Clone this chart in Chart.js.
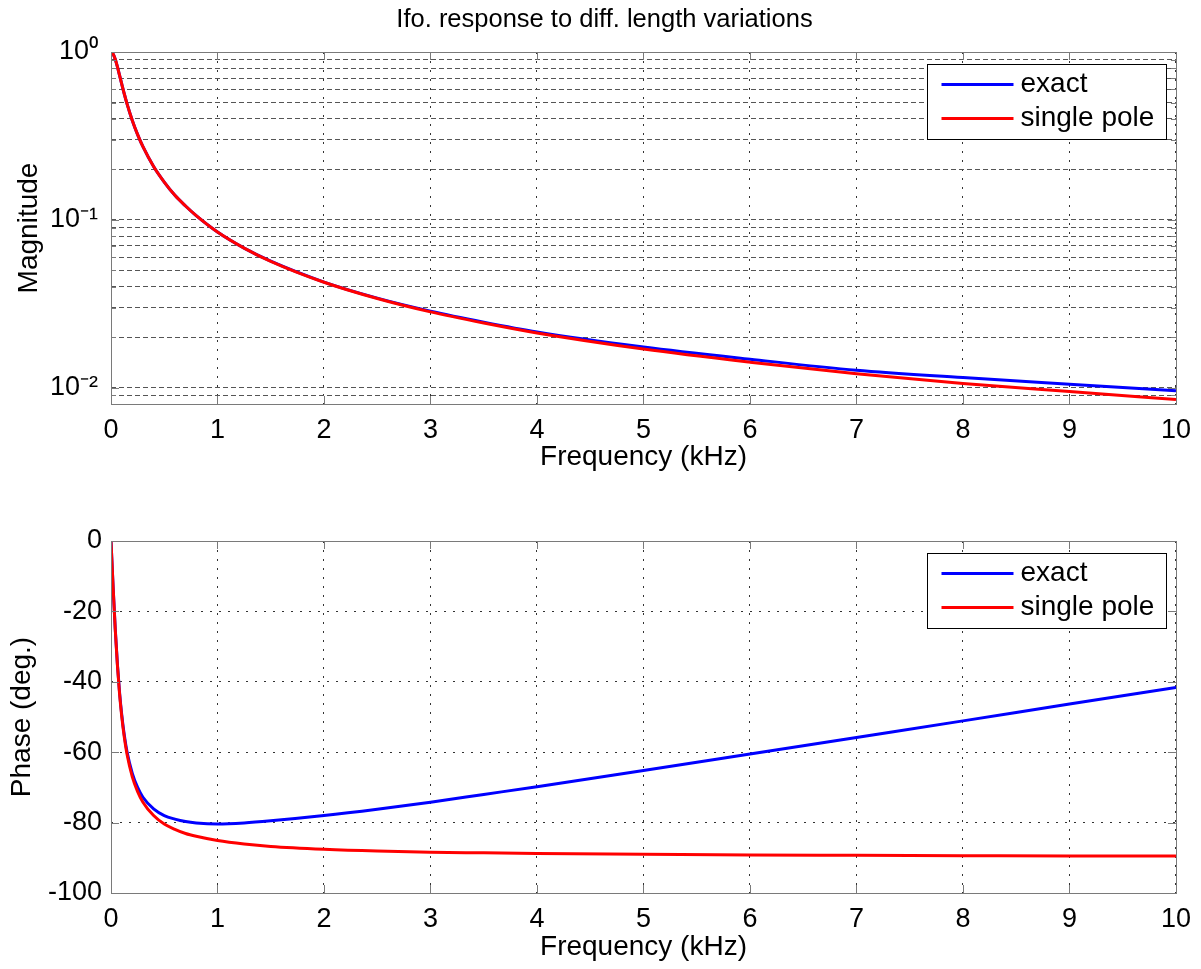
<!DOCTYPE html>
<html>
<head>
<meta charset="utf-8">
<script src="https://cdn.jsdelivr.net/npm/chart.js@4.4.0/dist/chart.umd.min.js"></script>
<style>
  html, body { margin: 0; padding: 0; background: #fff; }
  .panel { position: absolute; left: 0; width: 1201px; }
  #topPanel { top: 0; height: 490px; }
  #bottomPanel { top: 490px; height: 479px; }
</style>
</head>
<body>
<div class="panel" id="topPanel"><canvas id="magChart" width="1201" height="490"></canvas></div>
<div class="panel" id="bottomPanel"><canvas id="phaseChart" width="1201" height="479"></canvas></div>
<script>
/* ===== Data ===== */
const freq = [0, 0.02, 0.04, 0.06, 0.08, 0.1, 0.125, 0.15, 0.2, 0.25, 0.3, 0.4, 0.5, 0.6, 0.7, 0.8,
  1, 1.25, 1.5, 2, 2.5, 3, 3.5, 4, 5, 6, 7, 8, 9, 10];

const magExact = [1.0, 0.973, 0.905, 0.817, 0.728, 0.648, 0.562, 0.493, 0.391, 0.322, 0.273, 0.208,
  0.168, 0.140, 0.121, 0.106, 0.0847, 0.0679, 0.0567, 0.0426, 0.0342, 0.0286, 0.0246, 0.0215,
  0.0175, 0.0148, 0.0127, 0.0115, 0.0105, 0.0096];
const magPole = [1.0, 0.973, 0.905, 0.817, 0.728, 0.648, 0.562, 0.493, 0.391, 0.322, 0.273, 0.208,
  0.168, 0.140, 0.121, 0.106, 0.0847, 0.0679, 0.0566, 0.0425, 0.0340, 0.0283, 0.0243, 0.0212,
  0.0170, 0.0142, 0.0121, 0.0106, 0.0095, 0.0085];

const phaseExact = [0, -13.1, -25.0, -34.9, -42.9, -49.1, -55.2, -59.8, -66.0, -70.0, -72.8, -76.1,
  -78.0, -79.0, -79.7, -80.1, -80.4, -80.1, -79.5, -78.0, -76.2, -74.2, -72.0, -69.8,
  -65.2, -60.5, -55.8, -51.1, -46.3, -41.6];
const phasePole = [0, -13.2, -25.2, -35.2, -43.3, -49.6, -55.8, -60.5, -67.0, -71.2, -74.2, -78.0,
  -80.4, -81.9, -83.1, -83.9, -85.1, -86.1, -86.8, -87.6, -88.1, -88.4, -88.6, -88.8,
  -89.0, -89.2, -89.3, -89.4, -89.5, -89.5];

const freqTicks = [0, 1, 2, 3, 4, 5, 6, 7, 8, 9, 10];
const magTicks = [0.008, 0.009, 0.01, 0.02, 0.03, 0.04, 0.05, 0.06, 0.07, 0.08, 0.09,
  0.1, 0.2, 0.3, 0.4, 0.5, 0.6, 0.7, 0.8, 0.9, 1];
const magLabels = { 1: '10\u2070', 0.1: '10\u207B\u00B9', 0.01: '10\u207B\u00B2' };
const phaseTicks = [-100, -80, -60, -40, -20, 0];

const seriesNames = ['exact', 'single pole'];
const seriesColors = ['#0000ff', '#ff0000'];

/* ===== Shared style ===== */
const fontFamily = "'Liberation Sans', Arial, Helvetica, sans-serif";
Chart.defaults.font.family = fontFamily;
Chart.defaults.color = '#000';

const gridDots = '#333';
const frameColor = '#7a7a7a';

const points = (ys) => freq.map((f, i) => ({ x: f, y: ys[i] }));

function lineSet(label, data, color, order) {
  return {
    label,
    data: points(data),
    borderColor: color,
    backgroundColor: color,
    borderWidth: 3,
    pointRadius: 0,
    cubicInterpolationMode: 'monotone',
    order
  };
}

/* ===== Frame, inward ticks and boxed legend ===== */
const axesFrame = {
  id: 'axesFrame',
  afterDatasetsDraw(chart) {
    const { ctx, chartArea: a, scales } = chart;
    ctx.save();
    ctx.strokeStyle = frameColor;
    ctx.lineWidth = 1;
    ctx.setLineDash([]);
    ctx.beginPath();
    scales.x.ticks.forEach(t => {
      const px = Math.round(scales.x.getPixelForValue(t.value)) + 0.5;
      ctx.moveTo(px, a.bottom); ctx.lineTo(px, a.bottom - 8);
      ctx.moveTo(px, a.top); ctx.lineTo(px, a.top + 8);
    });
    scales.y.ticks.forEach(t => {
      const py = Math.round(scales.y.getPixelForValue(t.value)) + 0.5;
      const len = scales.y.type === 'logarithmic' && !magLabels[t.value] ? 5 : 8;
      ctx.moveTo(a.left, py); ctx.lineTo(a.left + len, py);
      ctx.moveTo(a.right, py); ctx.lineTo(a.right - len, py);
    });
    ctx.stroke();
    ctx.strokeRect(Math.round(a.left) + 0.5, Math.round(a.top) + 0.5,
      Math.round(a.right - a.left), Math.round(a.bottom - a.top));
    ctx.restore();
  },
  afterDraw(chart) {
    const { ctx, chartArea: a } = chart;
    const w = 239, h = 75;
    const left = Math.round(a.right - 10 - w) + 0.5;
    const top = Math.round(a.top + 12) + 0.5;
    ctx.save();
    ctx.fillStyle = '#fff';
    ctx.fillRect(left, top, w, h);
    ctx.strokeStyle = '#000';
    ctx.lineWidth = 1;
    ctx.strokeRect(left, top, w, h);
    ctx.font = `28px ${fontFamily}`;
    ctx.textBaseline = 'middle';
    ctx.fillStyle = '#000';
    chart.data.datasets.forEach((ds, i) => {
      const y = top + 20 + i * 34;
      ctx.strokeStyle = ds.borderColor;
      ctx.lineWidth = 3;
      ctx.beginPath();
      ctx.moveTo(left + 14, y);
      ctx.lineTo(left + 86, y);
      ctx.stroke();
      ctx.fillText(ds.label, left + 93, y);
    });
    ctx.restore();
  }
};

/* ===== Magnitude ===== */
function initMagChart() {
  const ctx = document.getElementById('magChart');
  new Chart(ctx, {
    type: 'line',
    data: {
      datasets: [
        lineSet(seriesNames[0], magExact, seriesColors[0], 2),
        lineSet(seriesNames[1], magPole, seriesColors[1], 1)
      ]
    },
    options: {
      responsive: false,
      animation: false,
      // left padding keeps the title centred where the reference has it
      layout: { padding: { left: 31, right: 23, top: 0, bottom: 0 } },
      scales: {
        x: {
          type: 'linear',
          min: 0,
          max: 10,
          afterBuildTicks: s => { s.ticks = freqTicks.map(v => ({ value: v })); },
          afterFit: s => { s.height = 86; },
          ticks: { autoSkip: false, maxRotation: 0, padding: 10, font: { size: 27 } },
          grid: { color: gridDots, drawTicks: false },
          border: { display: false, dash: [2, 7] },
          title: { display: true, text: 'Frequency (kHz)', font: { size: 28 }, padding: 16 }
        },
        y: {
          type: 'logarithmic',
          min: 0.008,
          max: 1,
          afterBuildTicks: s => { s.ticks = magTicks.map(v => ({ value: v })); },
          afterFit: s => { s.width = 80; },
          ticks: {
            autoSkip: false,
            padding: 13,
            font: { size: 27 },
            callback: v => magLabels[v] || ''
          },
          grid: { color: '#555', drawTicks: false },
          border: { display: false, dash: [5, 3] },
          title: { display: true, text: 'Magnitude', font: { size: 28 }, padding: -19 }
        }
      },
      plugins: {
        legend: { display: false },
        tooltip: { enabled: false },
        title: {
          display: true,
          text: 'Ifo. response to diff. length variations',
          font: { size: 25.5, weight: 'normal', lineHeight: 1.2 },
          padding: { top: 5, bottom: 16.4 }
        }
      }
    },
    plugins: [axesFrame]
  });
}

/* ===== Phase ===== */
function initPhaseChart() {
  const ctx = document.getElementById('phaseChart');
  new Chart(ctx, {
    type: 'line',
    data: {
      datasets: [
        lineSet(seriesNames[0], phaseExact, seriesColors[0], 2),
        lineSet(seriesNames[1], phasePole, seriesColors[1], 1)
      ]
    },
    options: {
      responsive: false,
      animation: false,
      layout: { padding: { left: 0, right: 23, top: 51, bottom: 0 } },
      scales: {
        x: {
          type: 'linear',
          min: 0,
          max: 10,
          afterBuildTicks: s => { s.ticks = freqTicks.map(v => ({ value: v })); },
          afterFit: s => { s.height = 76; },
          ticks: { autoSkip: false, maxRotation: 0, padding: 10, font: { size: 27 } },
          grid: { color: gridDots, drawTicks: false },
          border: { display: false, dash: [2, 7] },
          title: { display: true, text: 'Frequency (kHz)', font: { size: 28 }, padding: 5 }
        },
        y: {
          type: 'linear',
          min: -100,
          max: 0,
          afterBuildTicks: s => { s.ticks = phaseTicks.map(v => ({ value: v })); },
          afterFit: s => { s.width = 111; },
          ticks: { autoSkip: false, padding: 9, font: { size: 27 } },
          grid: { color: gridDots, drawTicks: false },
          border: { display: false, dash: [2, 7] },
          title: { display: true, text: 'Phase (deg.)', font: { size: 28 }, padding: 5 }
        }
      },
      plugins: {
        legend: { display: false },
        tooltip: { enabled: false }
      }
    },
    plugins: [axesFrame]
  });
}

/* ===== Init ===== */
initMagChart();
initPhaseChart();
</script>
</body>
</html>
